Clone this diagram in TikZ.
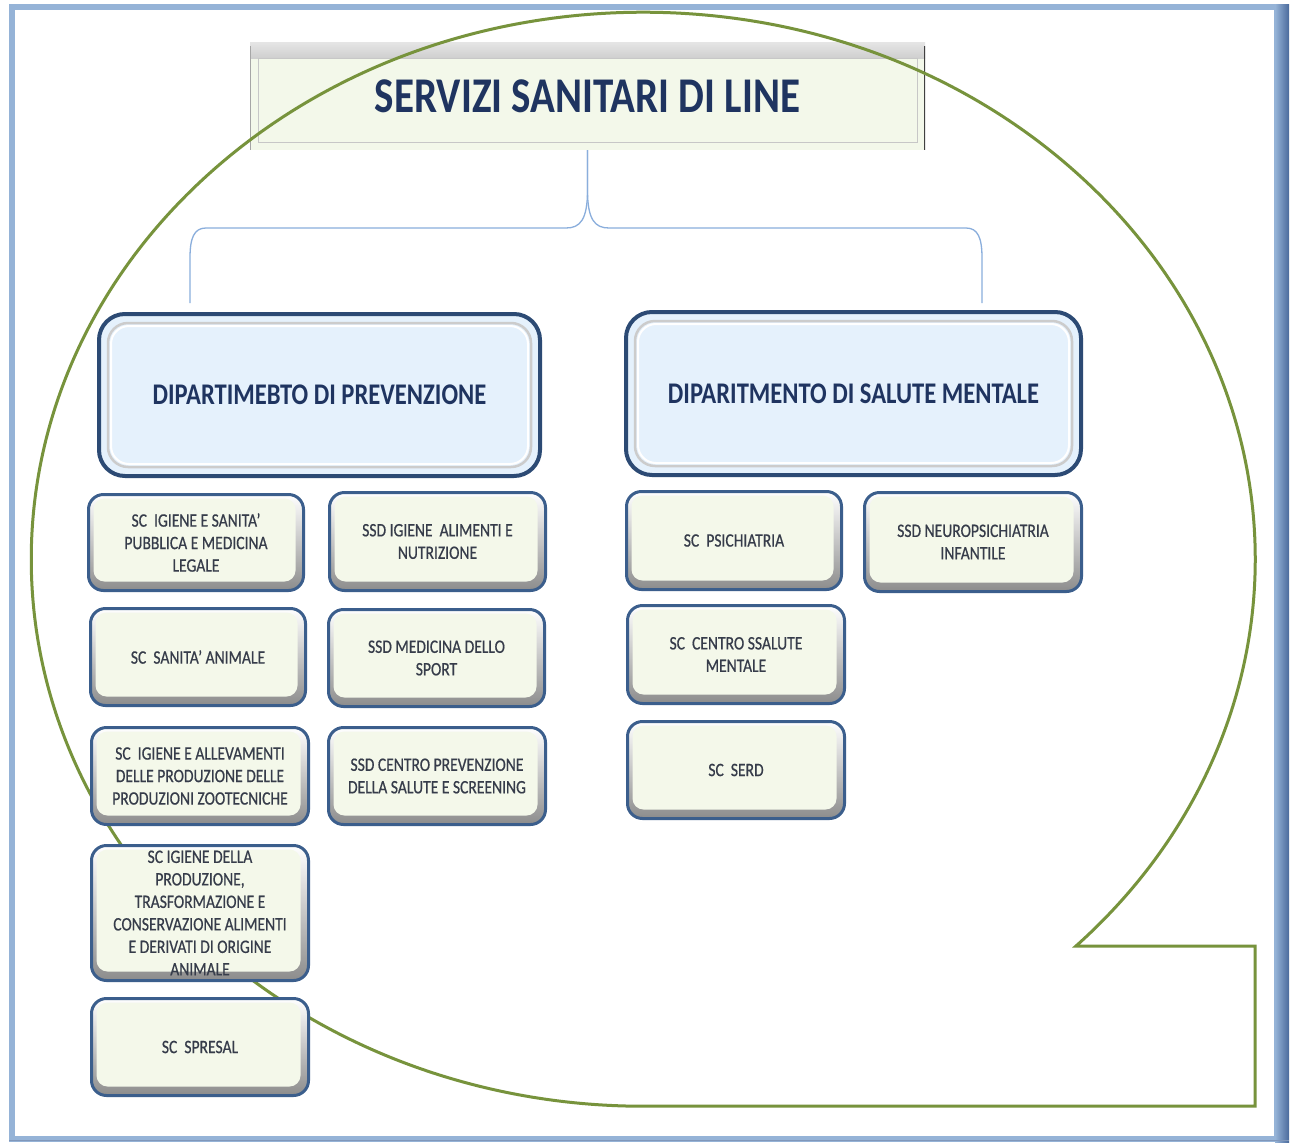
\documentclass[tikz,border=0pt]{standalone}
\usepackage{fontspec}
\newfontfamily\cf[FakeStretch=0.82]{Carlito}
\newfontfamily\cfs[FakeStretch=0.82,FakeBold=0.6]{Carlito}
\definecolor{frameblue}{HTML}{95B3D7}
\definecolor{framedark}{HTML}{4A6A9C}
\definecolor{bubblegreen}{HTML}{77933C}
\definecolor{connblue}{HTML}{8AAEDC}
\definecolor{titlefill}{HTML}{F3F8EA}
\definecolor{navy}{HTML}{1F3460}
\definecolor{deptfill}{HTML}{E5F1FC}
\definecolor{deptborder}{HTML}{2C4A74}
\definecolor{subfill}{HTML}{F4F8EA}
\definecolor{subborder}{HTML}{3B5E8C}
\definecolor{subtext}{HTML}{363C4A}
\tikzset{
  titlebox/.style={fill=titlefill, draw=none, inner sep=0pt,
    minimum width=675pt, minimum height=108pt, text=navy,
    font=\cf\bfseries\fontsize{50}{55}\selectfont,
    path picture={
      \shade[top color=black!10, bottom color=titlefill, middle color=black!40]
        (path picture bounding box.north west) rectangle ([yshift=-16pt]path picture bounding box.north east);
      \draw[black!22, line width=1pt]
        ([shift={(8pt,-16pt)}]path picture bounding box.north west) rectangle
        ([shift={(-8pt,8pt)}]path picture bounding box.south east);
      \draw[black!35, line width=1.5pt]
        ([yshift=-4pt]path picture bounding box.north west) -- (path picture bounding box.south west);
      \draw[black!75, line width=2.5pt]
        ([yshift=-4pt]path picture bounding box.north east) -- (path picture bounding box.south east);
    }},
  deptbox/.style={rounded corners=26pt, draw=deptborder, line width=4pt, fill=deptfill,
    inner sep=0pt, text=navy, font=\cf\bfseries\fontsize{30}{34}\selectfont,
    path picture={
      \draw[rounded corners=20pt, line width=2.5pt, draw=black!20]
        ([shift={(9pt,-9pt)}]path picture bounding box.north west) rectangle
        ([shift={(-9pt,9pt)}]path picture bounding box.south east);
      \draw[rounded corners=18pt, line width=2pt, draw=white]
        ([shift={(12pt,-12pt)}]path picture bounding box.north west) rectangle
        ([shift={(-12pt,12pt)}]path picture bounding box.south east);
    }},
  subbox/.style={rounded corners=15pt, draw=subborder, line width=3pt, fill=subfill,
    inner sep=0pt, align=center, text=subtext,
    font=\cfs\fontsize{19}{22.5}\selectfont,
    path picture={
      % bevel ring: light at the top, grey towards the bottom
      \shade[top color=white, bottom color=black!45]
        (path picture bounding box.north west) rectangle (path picture bounding box.south east);
      % inner panel
      \fill[subfill, rounded corners=11pt]
        ([shift={(5pt,-4pt)}]path picture bounding box.north west) rectangle
        ([shift={(-8pt,9pt)}]path picture bounding box.south east);
    }},
  conn/.style={connblue, line width=1.3pt},
  bubble/.style={bubblegreen, line width=3pt, line join=miter}
}
\begin{document}
\begin{tikzpicture}[x=1pt, y=-1pt]
\useasboundingbox (0,0) rectangle (1290,1143);
\fill[white] (0,0) rectangle (1290,1143);

% page frame
\draw[frameblue, line width=6pt] (11.5,6.5) rectangle (1277,1139);
\shade[left color=frameblue, right color=framedark] (1275,4) rectangle (1289,1142);
\draw[framedark!70, line width=1pt] (9,1140.5) -- (1289,1140.5);

% heading
\node[titlebox] (title) at (587.5,96) {SERVIZI SANITARI DI LINE};

% callout outline
\draw[bubble] (1255,946) -- (1076,946)
  arc[start angle=45, end angle=-270, x radius=612, y radius=547]
  -- (1255,1106) -- cycle;

% branching bracket
\coordinate (jl) at (190,303);
\coordinate (jr) at (982,303);
\draw[conn] (title.south) -- (587.5,190) .. controls (587.5,220) and (580,228) .. (566,228)
  -- (206,228) .. controls (194,228) and (190,238) .. (190,258) -- (jl);
\draw[conn] (title.south) -- (587.5,190) .. controls (587.5,220) and (595,228) .. (609,228)
  -- (966,228) .. controls (978,228) and (982,238) .. (982,258) -- (jr);

% departments
\node[deptbox, minimum width=441pt, minimum height=162pt] (depprev) at (319.5,395) {DIPARTIMEBTO DI PREVENZIONE};
\node[deptbox, minimum width=455pt, minimum height=163pt] (depment) at (853.5,393.5) {DIPARITMENTO DI SALUTE MENTALE};

% prevention units
\node[subbox, minimum width=215pt, minimum height=96pt] (l1) at (196,542.5) {SC\ \ IGIENE E SANITA’\\PUBBLICA E MEDICINA\\LEGALE};
\node[subbox, minimum width=215pt, minimum height=97pt] (l2) at (198,657) {SC\ \ SANITA’ ANIMALE};
\node[subbox, minimum width=217pt, minimum height=97pt] (l3) at (200,776) {SC\ \ IGIENE E ALLEVAMENTI\\DELLE PRODUZIONE DELLE\\PRODUZIONI ZOOTECNICHE};
\node[subbox, minimum width=217pt, minimum height=135pt] (l4) at (200,913) {SC IGIENE DELLA\\PRODUZIONE,\\TRASFORMAZIONE E\\CONSERVAZIONE ALIMENTI\\E DERIVATI DI ORIGINE\\ANIMALE};
\node[subbox, minimum width=217pt, minimum height=97pt] (l5) at (200,1047) {SC\ \ SPRESAL};

\node[subbox, minimum width=216pt, minimum height=98pt] (m1) at (437.5,541.5) {SSD IGIENE\ \ ALIMENTI E\\NUTRIZIONE};
\node[subbox, minimum width=216pt, minimum height=97pt] (m2) at (436.5,658) {SSD MEDICINA DELLO\\SPORT};
\node[subbox, minimum width=217pt, minimum height=97pt] (m3) at (437,776) {SSD CENTRO PREVENZIONE\\DELLA SALUTE E SCREENING};

% mental health units
\node[subbox, minimum width=215pt, minimum height=98pt] (r1) at (734,540.5) {SC\ \ PSICHIATRIA};
\node[subbox, minimum width=217pt, minimum height=99pt] (r2) at (973,542) {SSD NEUROPSICHIATRIA\\INFANTILE};
\node[subbox, minimum width=217pt, minimum height=98pt] (r3) at (736,654.5) {SC\ \ CENTRO SSALUTE\\MENTALE};
\node[subbox, minimum width=217pt, minimum height=97pt] (r4) at (736,770) {SC\ \ SERD};
\end{tikzpicture}
\end{document}
